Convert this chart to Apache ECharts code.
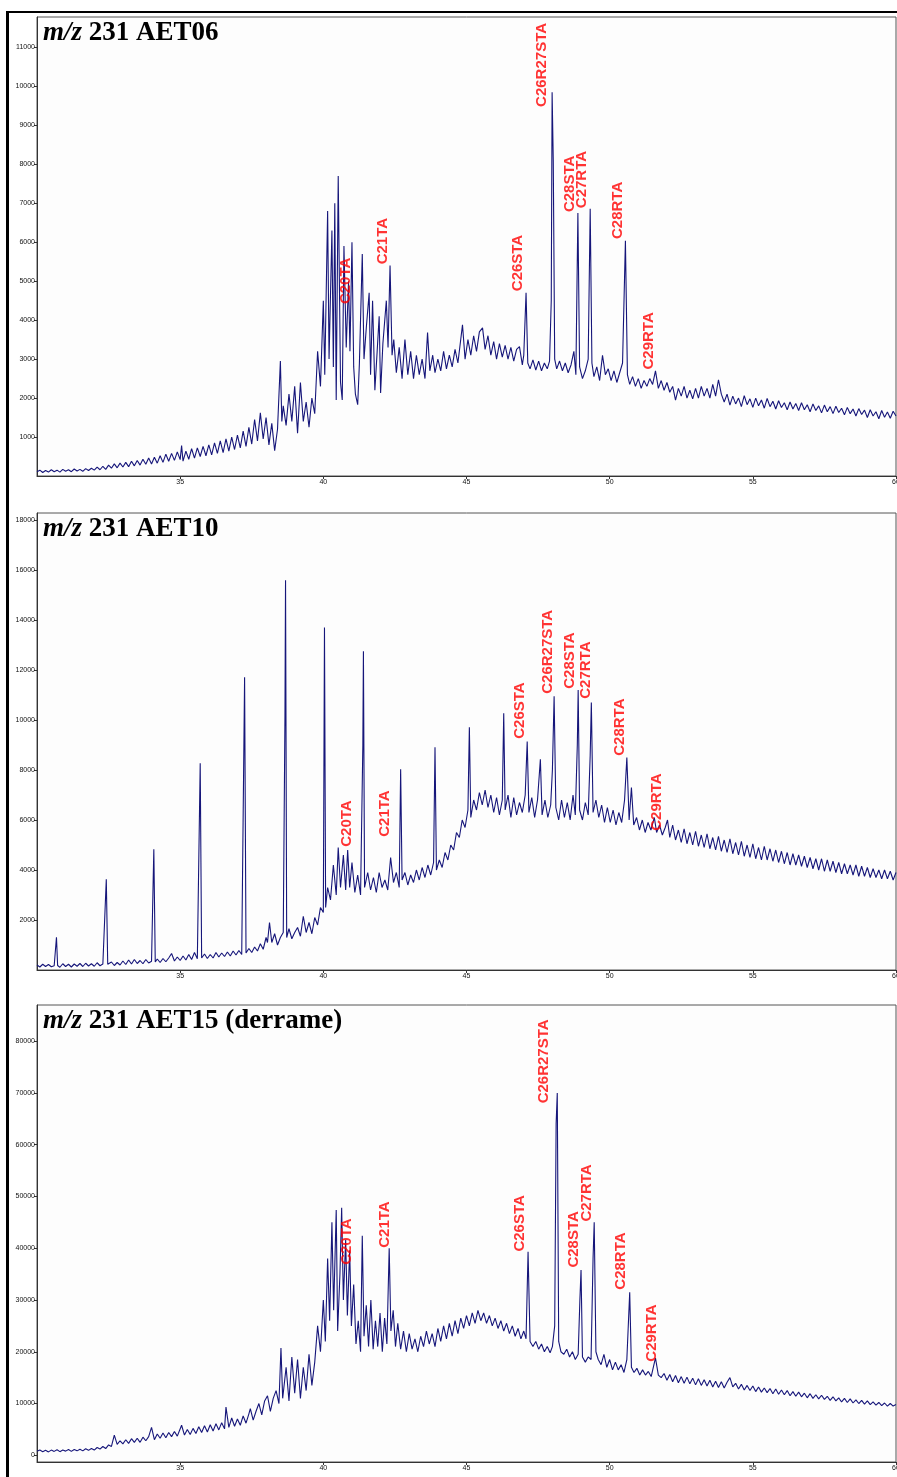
<!DOCTYPE html>
<html>
<head>
<meta charset="utf-8">
<script src="https://cdn.jsdelivr.net/npm/echarts@6/dist/echarts.min.js"></script>
<style>
html,body{margin:0;padding:0;background:#fff;}
#c{width:897px;height:1477px;}
</style>
</head>
<body>
<div id="c"></div>
<script>
// ---------- data (retention time [min], abundance) ----------
const titles = ['231 AET06', '231 AET10', '231 AET15 (derrame)'];
const xTicks = [35, 40, 45, 50, 55, 60];
const yTicks1 = [1000,2000,3000,4000,5000,6000,7000,8000,9000,10000,11000];
const yTicks2 = [2000,4000,6000,8000,10000,12000,14000,16000,18000];
const yTicks3 = [0,10000,20000,30000,40000,50000,60000,70000,80000];

const aet06 = [[30.0,110],[30.1,150],[30.2,90],[30.3,140],[30.4,100],[30.5,160],[30.6,110],[30.7,150],[30.8,100],[30.9,170],[31.0,120],[31.1,160],[31.2,110],[31.3,180],[31.4,130],[31.5,170],[31.6,120],[31.7,190],[31.8,140],[31.9,200],[32.0,150],[32.1,230],[32.2,160],[32.3,250],[32.4,170],[32.5,280],[32.6,200],[32.7,310],[32.8,210],[32.9,330],[33.0,230],[33.1,350],[33.2,240],[33.3,380],[33.4,260],[33.5,400],[33.6,280],[33.7,430],[33.8,300],[33.9,460],[34.0,310],[34.1,480],[34.2,330],[34.3,520],[34.4,350],[34.5,560],[34.6,380],[34.7,580],[34.8,400],[34.9,620],[35.0,420],[35.05,780],[35.1,380],[35.2,640],[35.3,430],[35.4,700],[35.5,460],[35.6,720],[35.7,500],[35.8,760],[35.9,520],[36.0,800],[36.1,540],[36.2,850],[36.3,580],[36.4,900],[36.5,600],[36.6,950],[36.7,640],[36.8,1000],[36.9,680],[37.0,1050],[37.1,720],[37.2,1150],[37.3,760],[37.4,1250],[37.5,820],[37.6,1450],[37.7,900],[37.8,1620],[37.9,950],[38.0,1500],[38.1,800],[38.2,1350],[38.3,650],[38.4,1200],[38.5,2950],[38.55,1400],[38.6,1800],[38.7,1300],[38.8,2100],[38.9,1400],[39.0,2300],[39.1,1100],[39.2,2400],[39.3,1400],[39.4,1900],[39.5,1250],[39.6,2000],[39.7,1600],[39.8,3200],[39.9,2300],[40.0,4500],[40.05,2600],[40.15,6800],[40.2,3000],[40.3,6300],[40.35,2800],[40.4,7000],[40.45,1950],[40.52,7700],[40.6,2400],[40.66,1950],[40.72,5900],[40.8,3300],[40.88,5000],[40.93,3200],[41.0,6000],[41.06,2800],[41.12,2100],[41.2,1830],[41.26,2900],[41.36,5700],[41.42,3000],[41.5,3800],[41.6,4700],[41.65,2600],[41.72,4500],[41.8,2200],[41.88,3200],[41.95,4100],[42.0,2130],[42.08,3400],[42.2,4500],[42.26,3300],[42.33,5400],[42.4,3100],[42.46,3500],[42.55,2650],[42.65,3300],[42.75,2500],[42.85,3500],[42.95,2600],[43.05,3200],[43.15,2500],[43.25,3100],[43.35,2600],[43.45,3000],[43.55,2500],[43.64,3680],[43.72,2700],[43.82,3100],[43.9,2650],[44.0,3000],[44.1,2700],[44.2,3200],[44.3,2750],[44.4,3100],[44.5,2800],[44.6,3250],[44.7,2900],[44.86,3880],[44.95,3000],[45.05,3500],[45.15,3100],[45.25,3600],[45.35,3200],[45.45,3700],[45.56,3800],[45.65,3250],[45.75,3600],[45.85,3100],[45.95,3450],[46.05,3000],[46.15,3400],[46.25,3050],[46.35,3350],[46.45,3000],[46.55,3300],[46.65,2950],[46.75,3250],[46.85,3320],[46.95,2850],[47.0,3100],[47.08,4700],[47.14,2900],[47.22,2750],[47.32,2980],[47.42,2720],[47.52,2950],[47.62,2700],[47.72,2900],[47.82,2750],[47.9,2950],[47.96,4500],[47.99,9850],[48.03,8100],[48.08,3000],[48.15,2750],[48.25,2950],[48.35,2700],[48.45,2900],[48.55,2650],[48.65,2850],[48.75,3200],[48.82,2600],[48.89,6750],[48.95,2800],[49.05,2500],[49.15,2700],[49.25,3000],[49.32,6860],[49.38,2900],[49.45,2550],[49.55,2800],[49.65,2450],[49.75,3100],[49.85,2600],[49.95,2750],[50.05,2450],[50.15,2700],[50.25,2400],[50.35,2650],[50.45,2900],[50.55,6040],[50.62,2600],[50.7,2350],[50.8,2550],[50.9,2300],[51.0,2500],[51.1,2250],[51.2,2450],[51.3,2300],[51.4,2500],[51.5,2350],[51.6,2700],[51.7,2250],[51.8,2450],[51.9,2200],[52.0,2400],[52.1,2150],[52.2,2300],[52.3,1950],[52.4,2250],[52.5,2050],[52.6,2300],[52.7,2000],[52.8,2200],[52.9,1980],[53.0,2250],[53.1,2000],[53.2,2300],[53.3,2050],[53.4,2250],[53.5,2000],[53.6,2350],[53.7,2050],[53.8,2470],[53.9,2100],[54.0,1900],[54.1,2100],[54.2,1820],[54.3,2050],[54.4,1850],[54.5,2000],[54.6,1780],[54.7,2060],[54.8,1830],[54.9,1980],[55.0,1760],[55.1,2000],[55.2,1800],[55.3,1950],[55.4,1740],[55.5,1990],[55.6,1780],[55.7,1920],[55.8,1720],[55.9,1930],[56.0,1760],[56.1,1880],[56.2,1700],[56.3,1900],[56.4,1720],[56.5,1860],[56.6,1680],[56.7,1880],[56.8,1700],[56.9,1830],[57.0,1650],[57.1,1850],[57.2,1680],[57.3,1800],[57.4,1620],[57.5,1820],[57.6,1650],[57.7,1780],[57.8,1600],[57.9,1790],[58.0,1630],[58.1,1740],[58.2,1570],[58.3,1760],[58.4,1600],[58.5,1720],[58.6,1540],[58.7,1730],[58.8,1580],[58.9,1690],[59.0,1500],[59.1,1700],[59.2,1540],[59.3,1650],[59.4,1470],[59.5,1680],[59.6,1510],[59.7,1640],[59.8,1480],[59.9,1660],[60.0,1540]];

const aet10 = [[30.0,200],[30.1,120],[30.2,230],[30.3,140],[30.4,220],[30.5,130],[30.6,170],[30.68,1310],[30.72,180],[30.8,110],[30.9,250],[31.0,140],[31.1,230],[31.2,120],[31.3,240],[31.4,150],[31.5,260],[31.6,140],[31.7,270],[31.8,160],[31.9,250],[32.0,150],[32.1,290],[32.2,170],[32.3,240],[32.42,3630],[32.47,230],[32.6,320],[32.7,180],[32.8,300],[32.9,200],[33.0,360],[33.1,220],[33.2,400],[33.3,240],[33.4,420],[33.5,260],[33.6,380],[33.7,250],[33.8,420],[33.9,280],[34.0,350],[34.08,4830],[34.13,320],[34.2,440],[34.3,300],[34.4,460],[34.5,330],[34.6,480],[34.7,660],[34.8,360],[34.9,520],[35.0,380],[35.1,560],[35.2,400],[35.3,620],[35.4,420],[35.5,700],[35.6,450],[35.65,520],[35.7,8270],[35.75,480],[35.85,640],[35.95,460],[36.05,620],[36.15,480],[36.25,700],[36.35,520],[36.45,680],[36.55,540],[36.65,720],[36.75,560],[36.85,760],[36.95,600],[37.05,780],[37.15,620],[37.2,700],[37.25,11710],[37.3,680],[37.4,860],[37.5,700],[37.6,920],[37.7,760],[37.8,1050],[37.9,830],[38.0,1300],[38.05,1100],[38.12,1900],[38.2,1100],[38.3,1450],[38.4,1000],[38.5,1300],[38.6,1500],[38.66,10200],[38.68,15590],[38.72,1300],[38.8,1650],[38.9,1250],[39.0,1500],[39.1,1700],[39.2,1350],[39.3,2150],[39.4,1500],[39.5,1900],[39.6,1450],[39.7,2100],[39.8,1800],[39.9,2500],[40.0,2300],[40.04,13700],[40.08,2500],[40.15,3300],[40.25,2800],[40.35,4200],[40.45,3000],[40.52,4900],[40.6,3300],[40.7,4600],[40.78,3200],[40.85,4800],[40.92,3300],[41.0,4300],[41.1,3100],[41.2,3800],[41.3,3000],[41.38,9000],[41.4,12750],[41.44,3300],[41.55,3900],[41.65,3200],[41.75,3700],[41.85,3100],[41.95,3900],[42.05,3300],[42.15,3600],[42.25,3200],[42.35,4500],[42.45,3500],[42.55,3900],[42.65,3300],[42.7,8030],[42.75,3600],[42.85,3900],[42.95,3400],[43.05,3800],[43.15,3500],[43.25,4000],[43.35,3600],[43.45,4100],[43.55,3700],[43.65,4200],[43.75,3800],[43.85,4300],[43.9,8910],[43.95,4000],[44.05,4400],[44.15,4100],[44.25,4700],[44.35,4400],[44.45,5000],[44.55,4800],[44.65,5500],[44.75,5300],[44.85,6000],[44.95,5700],[45.05,6400],[45.1,9710],[45.15,6100],[45.25,6800],[45.35,6400],[45.45,7100],[45.55,6600],[45.65,7200],[45.75,6500],[45.85,7000],[45.95,6300],[46.05,6900],[46.15,6200],[46.25,6800],[46.3,10270],[46.35,6400],[46.45,7000],[46.55,6100],[46.65,6900],[46.75,6200],[46.85,6700],[46.95,6300],[47.05,7000],[47.12,9140],[47.18,6300],[47.28,6900],[47.38,6100],[47.48,6800],[47.58,8430],[47.64,6200],[47.74,6800],[47.84,6100],[47.94,6600],[48.0,8000],[48.06,10950],[48.12,6500],[48.22,6000],[48.32,6800],[48.42,6100],[48.52,6700],[48.62,6000],[48.72,7000],[48.8,6200],[48.87,9000],[48.9,11200],[48.95,6400],[49.05,6000],[49.15,6700],[49.25,6200],[49.32,8600],[49.36,10700],[49.42,6300],[49.52,6800],[49.62,6100],[49.72,6600],[49.82,5900],[49.92,6500],[50.02,5900],[50.12,6400],[50.22,5800],[50.32,6300],[50.42,5900],[50.52,6800],[50.6,8500],[50.68,6000],[50.76,7300],[50.84,5800],[50.94,6100],[51.04,5600],[51.14,6000],[51.24,5500],[51.34,5900],[51.44,5600],[51.56,6100],[51.64,5500],[51.74,5800],[51.84,5400],[51.94,5700],[52.02,6000],[52.1,5300],[52.2,5800],[52.3,5200],[52.4,5600],[52.5,5100],[52.6,5650],[52.7,5050],[52.8,5500],[52.9,5000],[53.0,5550],[53.1,4950],[53.2,5400],[53.3,4900],[53.4,5450],[53.5,4850],[53.6,5300],[53.7,4800],[53.8,5350],[53.9,4750],[54.0,5200],[54.1,4700],[54.2,5250],[54.3,4650],[54.4,5100],[54.5,4600],[54.6,5150],[54.7,4550],[54.8,5000],[54.9,4500],[55.0,5050],[55.1,4450],[55.2,4900],[55.3,4400],[55.4,4950],[55.5,4400],[55.6,4850],[55.7,4350],[55.8,4800],[55.9,4300],[56.0,4750],[56.1,4250],[56.2,4700],[56.3,4200],[56.4,4650],[56.5,4200],[56.6,4600],[56.7,4150],[56.8,4550],[56.9,4100],[57.0,4500],[57.1,4050],[57.2,4450],[57.3,4000],[57.4,4450],[57.5,3950],[57.6,4400],[57.7,3950],[57.8,4350],[57.9,3900],[58.0,4300],[58.1,3850],[58.2,4250],[58.3,3850],[58.4,4200],[58.5,3800],[58.6,4200],[58.7,3750],[58.8,4150],[58.9,3750],[59.0,4100],[59.1,3700],[59.2,4050],[59.3,3700],[59.4,4000],[59.5,3650],[59.6,4000],[59.7,3650],[59.8,3950],[59.9,3600],[60.0,3900]];

const aet15 = [[30.0,770],[30.1,1000],[30.2,700],[30.3,950],[30.4,650],[30.5,1000],[30.6,750],[30.7,1050],[30.8,700],[30.9,1000],[31.0,800],[31.1,1100],[31.2,750],[31.3,1100],[31.4,850],[31.5,1150],[31.6,850],[31.7,1250],[31.8,950],[31.9,1300],[32.0,1000],[32.1,1500],[32.2,1200],[32.3,1700],[32.4,1300],[32.5,2000],[32.6,1700],[32.7,3900],[32.8,2100],[32.9,2800],[33.0,2200],[33.1,3000],[33.2,2300],[33.3,3200],[33.4,2500],[33.5,3300],[33.6,2500],[33.7,3500],[33.8,2800],[33.9,3600],[34.0,5400],[34.1,3000],[34.2,4100],[34.3,3300],[34.4,4300],[34.5,3400],[34.6,4400],[34.7,3600],[34.8,4600],[34.9,3700],[35.05,5800],[35.15,3900],[35.25,5000],[35.35,4000],[35.45,5200],[35.55,4200],[35.65,5500],[35.75,4400],[35.85,5700],[35.95,4500],[36.05,5900],[36.15,4700],[36.25,6100],[36.35,4900],[36.45,6300],[36.55,5100],[36.6,9300],[36.7,5400],[36.8,7200],[36.9,5600],[37.0,7000],[37.1,5800],[37.2,7600],[37.3,6200],[37.4,8000],[37.45,9000],[37.55,6800],[37.65,8500],[37.75,10000],[37.85,7800],[37.95,10500],[38.05,11500],[38.15,8500],[38.25,11000],[38.35,12500],[38.45,10000],[38.52,20700],[38.58,11000],[38.7,17000],[38.8,10500],[38.9,19000],[39.0,12000],[39.1,18500],[39.2,11000],[39.3,17000],[39.4,12500],[39.5,19500],[39.6,13500],[39.7,18000],[39.8,25000],[39.9,20000],[40.0,30000],[40.07,22000],[40.15,38000],[40.22,26000],[40.3,45000],[40.36,28000],[40.45,47400],[40.5,24000],[40.58,35000],[40.64,47800],[40.7,30000],[40.78,41600],[40.84,27000],[40.92,39600],[40.98,25000],[41.06,33000],[41.14,21500],[41.22,26000],[41.3,20000],[41.36,42400],[41.42,23000],[41.5,29000],[41.58,21000],[41.66,30000],[41.74,20500],[41.82,26000],[41.9,21000],[41.98,27500],[42.06,20000],[42.14,26500],[42.22,21500],[42.3,40000],[42.36,24000],[42.44,28000],[42.52,21000],[42.6,25500],[42.7,20500],[42.8,24000],[42.9,20000],[43.0,23500],[43.1,20500],[43.2,22500],[43.3,20000],[43.4,23000],[43.5,21000],[43.6,24000],[43.7,21500],[43.8,23500],[43.9,21000],[44.0,24500],[44.1,22000],[44.2,25000],[44.3,22500],[44.4,25500],[44.5,23000],[44.6,26000],[44.7,23500],[44.8,26500],[44.9,24500],[45.0,27000],[45.1,25000],[45.2,27500],[45.3,25500],[45.4,28000],[45.5,26000],[45.6,27500],[45.7,25500],[45.8,27000],[45.9,25000],[46.0,26500],[46.1,24500],[46.2,26000],[46.3,24000],[46.4,25500],[46.5,23500],[46.6,25000],[46.7,23000],[46.8,24500],[46.9,22500],[47.0,24000],[47.08,22500],[47.15,39300],[47.22,22000],[47.32,21000],[47.42,22000],[47.52,20500],[47.62,21500],[47.72,20000],[47.82,21000],[47.92,19800],[48.0,21000],[48.08,25000],[48.13,64000],[48.17,70000],[48.22,22000],[48.3,20000],[48.4,19500],[48.5,20500],[48.6,19000],[48.7,20000],[48.8,18500],[48.9,19500],[48.96,30000],[49.0,35800],[49.05,19000],[49.15,18000],[49.25,19000],[49.35,18500],[49.42,38000],[49.46,45000],[49.52,20000],[49.6,18500],[49.7,17500],[49.8,19500],[49.9,17000],[50.0,18500],[50.1,16500],[50.2,18000],[50.3,16500],[50.4,17500],[50.5,16000],[50.6,18500],[50.7,31500],[50.76,17000],[50.85,16000],[50.95,16800],[51.05,15500],[51.15,16500],[51.25,15500],[51.35,16200],[51.45,15200],[51.6,18800],[51.7,15500],[51.8,15000],[51.9,15800],[52.0,14500],[52.1,15600],[52.2,14200],[52.3,15400],[52.4,14000],[52.5,15200],[52.6,13900],[52.7,15100],[52.8,13800],[52.9,14900],[53.0,13600],[53.1,14800],[53.2,13500],[53.3,14600],[53.4,13400],[53.5,14500],[53.6,13200],[53.7,14300],[53.8,13100],[53.9,14200],[54.0,13000],[54.1,14100],[54.2,15000],[54.3,13200],[54.4,13900],[54.5,12800],[54.6,13700],[54.7,12600],[54.8,13500],[54.9,12500],[55.0,13400],[55.1,12300],[55.2,13200],[55.3,12200],[55.4,13000],[55.5,12100],[55.6,12900],[55.7,11900],[55.8,12800],[55.9,11800],[56.0,12600],[56.1,11700],[56.2,12500],[56.3,11500],[56.4,12300],[56.5,11400],[56.6,12200],[56.7,11300],[56.8,12000],[56.9,11100],[57.0,11900],[57.1,11000],[57.2,11700],[57.3,10900],[57.4,11600],[57.5,10800],[57.6,11400],[57.7,10600],[57.8,11300],[57.9,10500],[58.0,11100],[58.1,10300],[58.2,11000],[58.3,10200],[58.4,10900],[58.5,10100],[58.6,10700],[58.7,10000],[58.8,10600],[58.9,9900],[59.0,10500],[59.1,9800],[59.2,10300],[59.3,9700],[59.4,10200],[59.5,9600],[59.6,10100],[59.7,9500],[59.8,10000],[59.9,9500],[60.0,9800]];

// peak labels: [name, time of label, abundance at label's lower end]
const peaks06 = [['C20TA',40.82,4400],['C21TA',42.08,5420],['C26STA',46.8,4730],['C26R27STA',47.64,9460],['C28STA',48.62,6760],['C27RTA',49.04,6860],['C28RTA',50.3,6070],['C29RTA',51.39,2720]];
const peaks10 = [['C20TA',40.85,4910],['C21TA',42.15,5310],['C26STA',46.87,9230],['C26R27STA',47.85,11030],['C28STA',48.62,11230],['C27RTA',49.18,10830],['C28RTA',50.37,8550],['C29RTA',51.67,5550]];
const peaks15 = [['C20TA',40.85,36700],['C21TA',42.15,40000],['C26STA',46.87,39260],['C26R27STA',47.71,67900],['C28STA',48.76,36160],['C27RTA',49.22,45060],['C28RTA',50.4,31900],['C29RTA',51.5,17990]];

// ---------- chart ----------
const LINE = '#16167a';
const grids = [
  {left:37, right:1, top:17, height:459},
  {left:37, right:1, top:513, height:457},
  {left:37, right:1, top:1005, height:457}
];
const yRanges = [[0,11780],[0,18280],[-1300,87000]];
const yTickSets = [yTicks1, yTicks2, yTicks3];
const series = [aet06, aet10, aet15];
const peakSets = [peaks06, peaks10, peaks15];

const option = {
  animation:false,
  backgroundColor:'#ffffff',
  title: grids.map((g,i)=>({
    left:43, top:g.top+3, padding:0,
    text:'{i|m/z} ' + titles[i],
    textStyle:{fontFamily:'Liberation Serif', fontWeight:'bold', fontSize:27, color:'#000',
      rich:{i:{fontFamily:'Liberation Serif', fontStyle:'italic', fontWeight:'bold', fontSize:27, color:'#000'}}}
  })),
  grid: grids.map(g=>Object.assign({show:true, borderColor:'#555', borderWidth:1, backgroundColor:'#fdfdfd', containLabel:false, outerBoundsMode:'none'}, g)),
  xAxis: grids.map((g,i)=>({
    type:'value', gridIndex:i, min:30, max:60,
    axisLine:{show:true, onZero:false, lineStyle:{color:'#333', width:1}},
    axisTick:{show:true, length:3, customValues:xTicks, lineStyle:{color:'#333'}},
    axisLabel:{show:true, customValues:xTicks, fontSize:7, color:'#111', margin:3, fontFamily:'Liberation Sans', formatter:v=>String(v)},
    splitLine:{show:false}
  })),
  yAxis: grids.map((g,i)=>({
    type:'value', gridIndex:i, min:yRanges[i][0], max:yRanges[i][1],
    axisLine:{show:true, onZero:false, lineStyle:{color:'#333', width:1}},
    axisTick:{show:true, length:3, customValues:yTickSets[i], lineStyle:{color:'#333'}},
    axisLabel:{show:true, customValues:yTickSets[i], fontSize:7, color:'#111', margin:2, fontFamily:'Liberation Sans', formatter:v=>String(v)},
    splitLine:{show:false}
  })),
  series: [].concat(
    series.map((d,i)=>({
      type:'line', xAxisIndex:i, yAxisIndex:i, data:d, showSymbol:false, symbol:'none',
      lineStyle:{color:LINE, width:1.1}, clip:true, z:2
    })),
    peakSets.map((p,i)=>({
      type:'scatter', xAxisIndex:i, yAxisIndex:i, symbolSize:1,
      itemStyle:{color:'rgba(0,0,0,0)'},
      data:p.map(r=>({name:r[0], value:[r[1], r[2]]})),
      label:{show:true, formatter:'{b}', position:[0,0], rotate:90, align:'left', verticalAlign:'middle',
        color:'#ff0000', fontWeight:'bold', fontSize:15, fontFamily:'Liberation Sans'},
      z:5
    }))
  ),
  graphic:[
    {type:'rect', shape:{x:6, y:11, width:3, height:1466}, style:{fill:'#000'}},
    {type:'rect', shape:{x:6, y:11, width:891, height:2}, style:{fill:'#000'}}
  ]
};

const chart = echarts.init(document.getElementById('c'), null, {renderer:'canvas'});
chart.setOption(option);
</script>
</body>
</html>
